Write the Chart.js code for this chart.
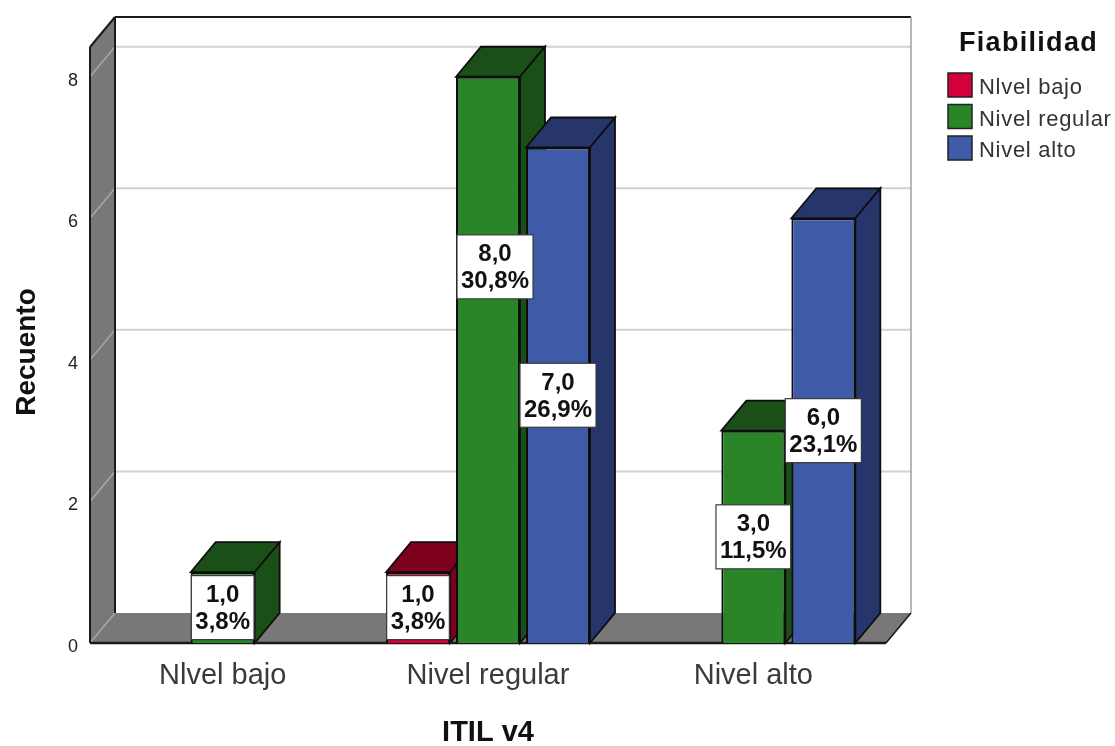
<!DOCTYPE html>
<html><head><meta charset="utf-8">
<style>html,body{margin:0;padding:0;background:#fff}canvas{display:block}</style>
<script src="https://cdn.jsdelivr.net/npm/chart.js@4"></script></head>
<body><canvas id="c" width="1115" height="746"></canvas>
<script>
const categories = ['Nlvel bajo', 'Nivel regular', 'Nivel alto'];
const seriesNames = ['Nlvel bajo', 'Nivel regular', 'Nivel alto'];
const lowValues = [null, 1, null];
const regularValues = [1, 8, 3];
const highValues = [null, 7, 6];
const lowPercents = [null, '3,8%', null];
const regularPercents = ['3,8%', '30,8%', '11,5%'];
const highPercents = [null, '26,9%', '23,1%'];
const frontColors = ['#d3003a', '#2a8528', '#3f5ba8'];
const sideColors = ['#7d001f', '#1a5017', '#26356a'];
const depthX = 25, depthY = -30;
const FONT = '"Liberation Sans", Arial, sans-serif';
const allPercents = [lowPercents, regularPercents, highPercents];

function path(ctx, pts, fill, stroke, lw){
  ctx.beginPath();
  pts.forEach((p,i)=> i ? ctx.lineTo(p[0],p[1]) : ctx.moveTo(p[0],p[1]));
  ctx.closePath();
  if(fill){ctx.fillStyle=fill;ctx.fill();}
  if(stroke){ctx.strokeStyle=stroke;ctx.lineWidth=lw||1.5;ctx.stroke();}
}
function seg(ctx,x1,y1,x2,y2,color,lw){
  ctx.beginPath();ctx.moveTo(x1,y1);ctx.lineTo(x2,y2);ctx.strokeStyle=color;ctx.lineWidth=lw;ctx.stroke();
}

const box3d = {
  id:'box3d',
  beforeDatasetsDraw(chart){
    const {ctx, chartArea:a, scales:{y}} = chart;
    const b=a.bottom, l=a.left, r=a.right, t=a.top;
    ctx.save();
    path(ctx,[[l,b],[l+depthX,b+depthY],[l+depthX,t+depthY],[l,t]],'#787878');
    path(ctx,[[l,b],[l+depthX,b+depthY],[r+depthX,b+depthY],[r,b]],'#787878');
    y.ticks.forEach(tk=>{
      const py=y.getPixelForValue(tk.value);
      seg(ctx,l,py,l+depthX,py+depthY,'#a8a8a8',1.5);
      if(tk.value>0) seg(ctx,l+depthX,py+depthY,r+depthX,py+depthY,'#d2d2d2',2);
    });
    seg(ctx,l+depthX,t+depthY,r+depthX,t+depthY,'#1a1a1a',2);
    seg(ctx,r+depthX,t+depthY,r+depthX,b+depthY,'#a0a0a0',1.5);
    seg(ctx,l+depthX,t+depthY,l+depthX,b+depthY,'#1a1a1a',2);
    seg(ctx,l,t,l+depthX,t+depthY,'#1a1a1a',2);
    seg(ctx,l,t,l,b,'#1a1a1a',2);
    seg(ctx,r,b,r+depthX,b+depthY,'#1a1a1a',1.5);
    seg(ctx,l,b,r,b,'#1a1a1a',2.5);
    ctx.restore();
  },
  // Chart.js paints the first dataset last; the 3D boxes need it painted first.
  beforeDatasetDraw(){ return false; },
  afterDatasetsDraw(chart){
    const {ctx}=chart;
    chart.data.datasets.forEach((ds,i)=>{
      const meta=chart.getDatasetMeta(i);
      ctx.save();
      meta.data.forEach((el,j)=>{
        if(ds.data[j]==null) return;
        const p=el.getProps(['x','y','base','width'],true);
        const lx=p.x-p.width/2, rx=p.x+p.width/2;
        path(ctx,[[lx,p.y],[lx+depthX,p.y+depthY],[rx+depthX,p.y+depthY],[rx,p.y]],sideColors[i],'#0d0d0d',1.8);
        path(ctx,[[rx,p.y],[rx+depthX,p.y+depthY],[rx+depthX,p.base+depthY],[rx,p.base]],sideColors[i],'#0d0d0d',1.8);
      });
      ctx.restore();
      meta.controller.draw();
    });
  }
};

// The one label the original chart moved aside to avoid a collision: [series, category, dx, dy]
const labelShifts = [[1,1,7,-93]];

const labels3d = {
  id:'labels3d',
  afterDatasetsDraw(chart){
    const {ctx}=chart;
    ctx.save();
    ctx.font='bold 24px '+FONT;
    ctx.textAlign='center';ctx.textBaseline='middle';
    chart.data.datasets.forEach((ds,i)=>{
      chart.getDatasetMeta(i).data.forEach((el,j)=>{
        const v=ds.data[j];
        if(v==null) return;
        const p=el.getProps(['x','y','base'],true);
        const sh=labelShifts.find(s=>s[0]===i&&s[1]===j);
        const cx=p.x+(sh?sh[2]:0), cy=(p.y+p.base)/2+(sh?sh[3]:0);
        const line1=v.toFixed(1).replace('.',','), line2=allPercents[i][j];
        const w=Math.max(ctx.measureText(line1).width,ctx.measureText(line2).width)+8, h=64;
        ctx.fillStyle='#fff';ctx.fillRect(cx-w/2,cy-h/2,w,h);
        ctx.strokeStyle='#3a3a3a';ctx.lineWidth=1.2;ctx.strokeRect(cx-w/2,cy-h/2,w,h);
        ctx.fillStyle='#111';
        ctx.fillText(line1,cx,cy-12);
        ctx.fillText(line2,cx,cy+15);
      });
    });
    ctx.restore();
  }
};

const legend3d = {
  id:'legend3d',
  afterDraw(chart){
    const {ctx}=chart;
    ctx.save();
    ctx.textBaseline='middle';ctx.textAlign='left';
    ctx.fillStyle='#111';
    ctx.font='bold 27px '+FONT;
    ctx.letterSpacing='1.3px';
    ctx.fillText('Fiabilidad',959,44);
    ctx.font='22px '+FONT;
    ctx.letterSpacing='0.7px';
    seriesNames.forEach((n,i)=>{
      const y=73+i*31.5;
      ctx.fillStyle=frontColors[i];ctx.fillRect(948,y,24,24);
      ctx.strokeStyle='#222';ctx.lineWidth=1.5;ctx.strokeRect(948,y,24,24);
      ctx.fillStyle='#333';
      ctx.fillText(n,979,y+15);
    });
    ctx.restore();
  }
};

// Shift the y title down along the axis, where the original centres it.
const titleNudge = {
  id:'titleNudge',
  beforeDraw(chart){
    const s=chart.scales.y;
    if(s._nudged) return;
    s._nudged=true;
    const orig=s.drawTitle.bind(s);
    s.drawTitle=function(){chart.ctx.save();chart.ctx.translate(0,7);orig();chart.ctx.restore();};
  }
};

new Chart(document.getElementById('c'),{
  type:'bar',
  data:{labels:categories,datasets:[lowValues,regularValues,highValues].map((d,i)=>({
    label:seriesNames[i],data:d,backgroundColor:frontColors[i],borderColor:'#0d0d0d',borderWidth:2,
    categoryPercentage:0.7915,barPercentage:0.914
  }))},
  options:{
    responsive:false,animation:false,
    layout:{padding:{top:47,right:229,left:0,bottom:0}},
    plugins:{legend:{display:false},tooltip:{enabled:false}},
    scales:{
      x:{grid:{display:false},border:{display:false},
        ticks:{font:{family:FONT,size:29},color:'#3a3a3a',padding:8,maxRotation:0},
        title:{display:true,text:'ITIL v4',font:{family:FONT,size:29,weight:'bold',lineHeight:1},color:'#111',padding:{top:18,bottom:-1}},
        afterFit(s){s.height=103;}},
      y:{min:0,max:8.42,grid:{display:false,drawTicks:false},border:{display:false},
        afterBuildTicks(s){s.ticks=[0,2,4,6,8].map(v=>({value:v}));},
        ticks:{font:{family:FONT,size:18},color:'#222',padding:12,labelOffset:4},
        title:{display:true,text:'Recuento',font:{family:FONT,size:28,weight:'bold'},color:'#111',padding:{top:10,bottom:0}},
        afterFit(s){s.width=90;}}
    }
  },
  plugins:[box3d,labels3d,legend3d,titleNudge]
});
</script></body></html>
